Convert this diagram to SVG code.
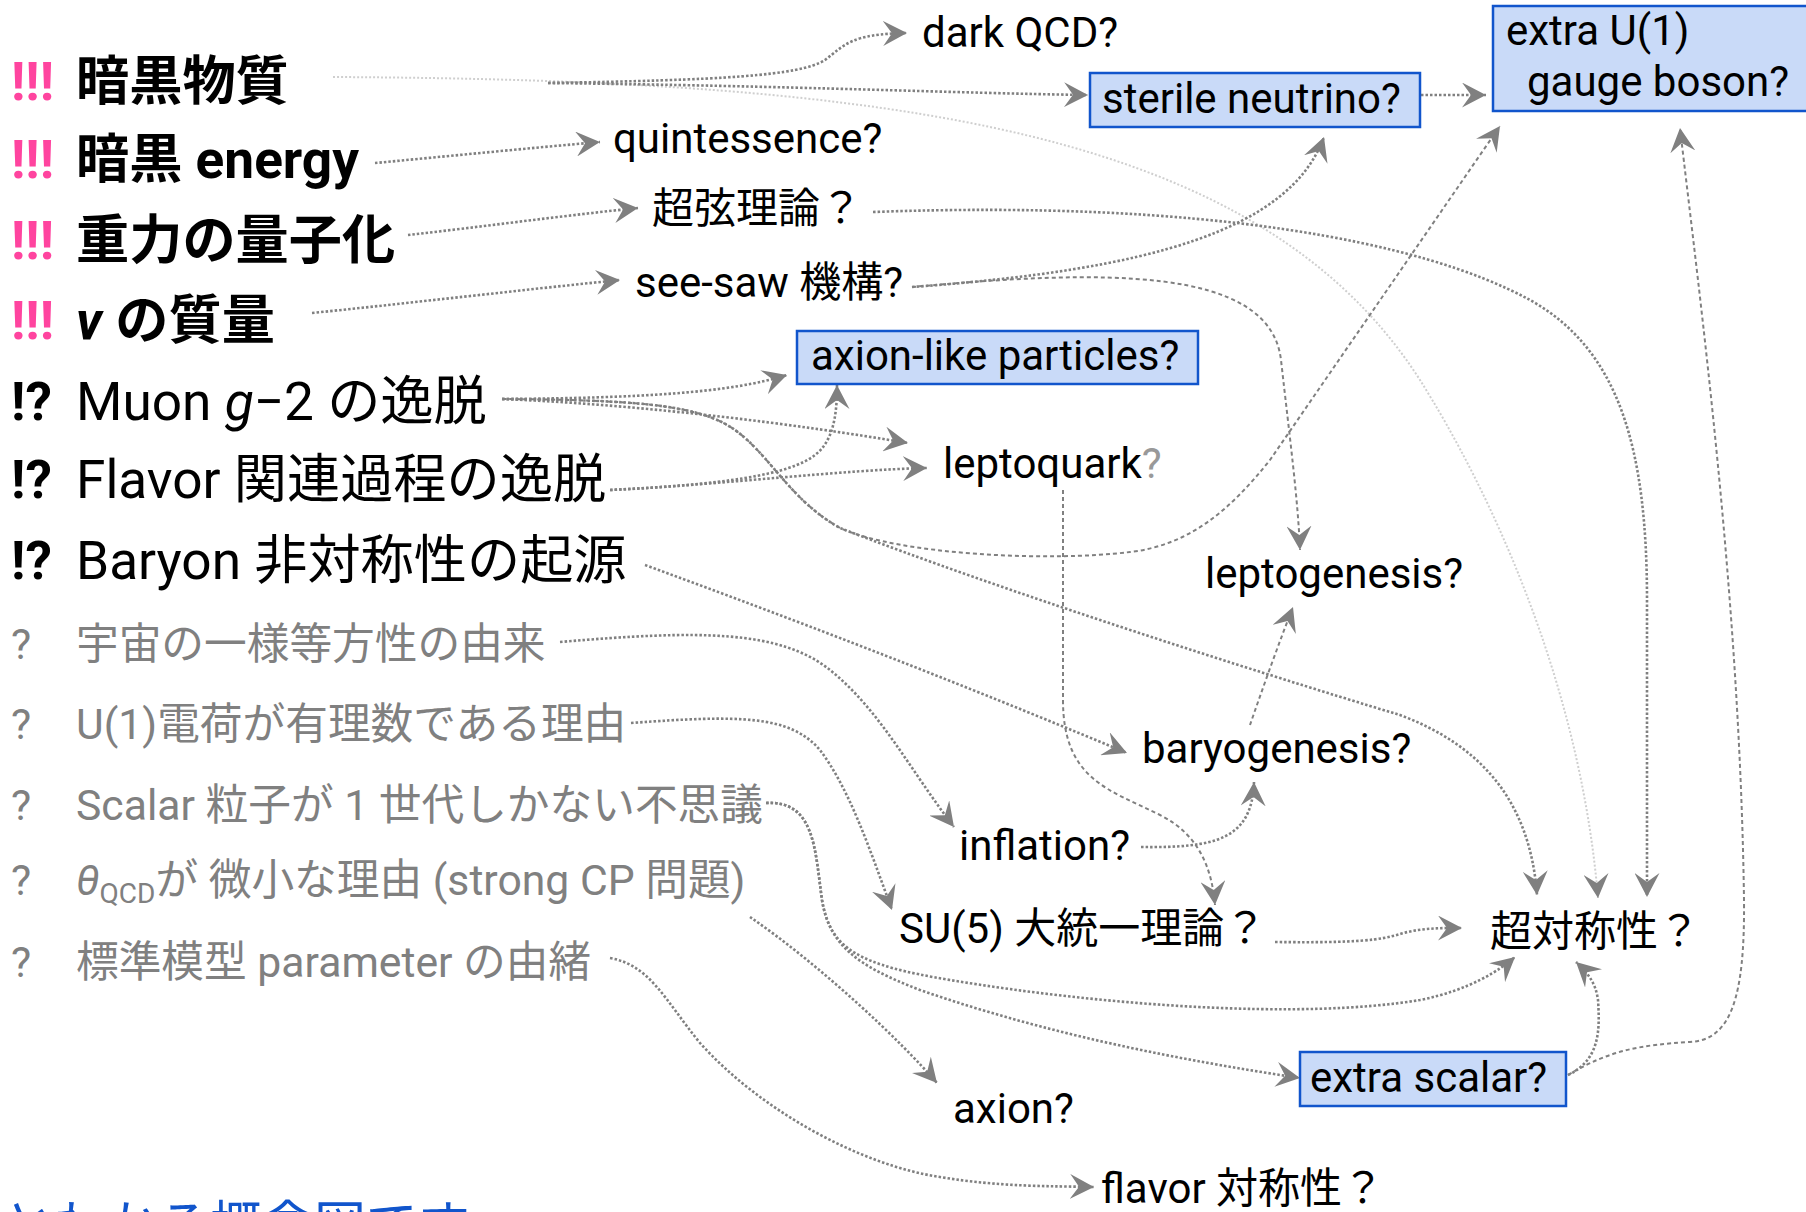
<svg xmlns="http://www.w3.org/2000/svg" width="1806" height="1212" viewBox="0 0 1806 1212">
<defs>
<marker id="ah" viewBox="0 0 25 25" refX="24" refY="12.5" markerWidth="25" markerHeight="25" markerUnits="userSpaceOnUse" orient="auto">
<path d="M24,12.5 L0,0 L9,12.5 L0,25 Z" fill="#808080"/>
</marker>
</defs>
<style>
text{font-family:Roboto,"Noto Sans CJK JP",sans-serif;}
.big{font-size:53.2px;fill:#000;}
.bold{font-weight:bold;}
.pink{font-size:53px;font-weight:bold;fill:#ff449f;}
.gray{font-size:42.7px;fill:#808080;}
.lbl{font-size:42px;fill:#000;}
.box{fill:#c9daf8;stroke:#1155cc;stroke-width:2.5;}
.c{fill:none;stroke:#808080;stroke-width:2.6;stroke-dasharray:2.5 2;marker-end:url(#ah);}
.t{fill:none;stroke:#808080;stroke-width:2;stroke-dasharray:4 3;marker-end:url(#ah);}
.f{fill:none;stroke:#cfcfcf;stroke-width:2;stroke-dasharray:2 2;marker-end:url(#ah);}
</style>
<rect width="1806" height="1212" fill="#fff"/>

<g id="connectors">
<path class="f" d="M333,77 C900,80 1260,130 1420,380 C1488,488 1580,680 1598,898"/>
<path class="c" d="M548,83 C720,80 800,76 825,60 C845,45 850,34 907,33"/>
<path class="c" d="M548,83 C800,86 950,93 1088,95"/>
<path class="c" d="M375,163 C450,156 530,148 600,142"/>
<path class="c" d="M408,235 C480,227 560,216 638,208"/>
<path class="c" d="M312,313 C420,302 520,290 620,280"/>
<path class="c" d="M873,212 C1200,200 1420,240 1530,300 C1620,350 1647,450 1647,600 L1647,897"/>
<path class="c" d="M912,287 C1150,270 1290,230 1324,137"/>
<path class="t" d="M912,287 C1100,270 1270,265 1281,360 C1290,440 1298,500 1300,550"/>
<path class="c" d="M502,399 C640,398 730,393 787,375"/>
<path class="c" d="M502,399 C650,405 800,425 908,443"/>
<path class="t" d="M502,399 C640,400 700,405 735,430 C770,455 790,500 840,528 C900,555 1050,562 1130,552 C1190,545 1230,510 1270,460 L1500,126"/>
<path class="c" d="M502,399 C640,400 700,405 735,430 C770,455 790,500 840,528 C1000,590 1250,670 1400,715 C1480,745 1530,800 1537,895"/>
<path class="c" d="M610,490 C730,484 840,470 927,468"/>
<path class="c" d="M610,490 C720,485 790,475 815,455 C835,440 837,410 837,385"/>
<path class="c" d="M645,565 C850,640 1000,700 1127,753"/>
<path class="c" d="M560,642 C700,630 780,630 830,670 C880,710 910,770 954,827"/>
<path class="c" d="M631,723 C740,715 790,715 820,750 C850,790 870,850 892,910"/>
<path class="c" d="M766,803 C815,800 815,850 822,900 C830,950 860,965 950,980 C1100,1005 1300,1020 1420,1000 C1470,990 1500,970 1515,957"/>
<path class="c" d="M766,803 C815,800 815,850 822,900 C830,945 855,965 920,990 C1050,1035 1180,1060 1300,1078"/>
<path class="c" d="M750,917 C820,965 900,1040 937,1083"/>
<path class="c" d="M610,958 C650,965 665,1000 700,1043 C760,1110 860,1165 940,1177 C1000,1187 1050,1186 1094,1187"/>
<path class="c" d="M1141,847 C1215,848 1252,840 1254,782"/>
<path class="t" d="M1250,725 C1262,690 1280,640 1293,607"/>
<path class="t" d="M1063,490 L1063,700 C1063,780 1110,790 1160,815 C1200,835 1212,870 1215,905"/>
<path class="c" d="M1275,942 C1360,943 1380,940 1400,934 C1420,928 1440,928 1462,928"/>
<path class="c" d="M1568,1075 C1600,1060 1600,1030 1598,1000 C1596,985 1590,975 1576,962"/>
<path class="t" d="M1568,1075 C1610,1050 1640,1045 1690,1042 C1730,1040 1745,1000 1744,900 C1740,600 1700,300 1680,128"/>
<path class="c" d="M1421,95 L1486,95"/>
</g>

<g id="q-darkmatter"><text class="pink" x="11" y="100">!!!</text><text class="big bold" x="76" y="100">暗黒物質</text></g>
<g id="q-darkenergy"><text class="pink" x="11" y="178">!!!</text><text class="big bold" x="76" y="178">暗黒 energy</text></g>
<g id="q-gravity"><text class="pink" x="11" y="259">!!!</text><text class="big bold" x="76" y="259">重力の量子化</text></g>
<g id="q-numass"><text class="pink" x="11" y="339">!!!</text><text class="big bold" x="76" y="339"><tspan font-style="italic">ν</tspan> の質量</text></g>
<g id="q-muon"><text class="big bold" x="11" y="420">!?</text><text class="big" x="76" y="420">Muon <tspan font-style="italic">g</tspan>−2 の逸脱</text></g>
<g id="q-flavor"><text class="big bold" x="11" y="498">!?</text><text class="big" x="76" y="498">Flavor 関連過程の逸脱</text></g>
<g id="q-baryon"><text class="big bold" x="11" y="579">!?</text><text class="big" x="76" y="579">Baryon 非対称性の起源</text></g>
<g id="q-isotropy"><text class="gray" x="11" y="659">?</text><text class="gray" x="76" y="659">宇宙の一様等方性の由来</text></g>
<g id="q-charge"><text class="gray" x="11" y="739">?</text><text class="gray" x="76" y="739">U(1)電荷が有理数である理由</text></g>
<g id="q-scalar"><text class="gray" x="11" y="820">?</text><text class="gray" x="76" y="820">Scalar 粒子が 1 世代しかない不思議</text></g>
<g id="q-strongcp"><text class="gray" x="11" y="895">?</text><text class="gray" x="76" y="895"><tspan font-style="italic">θ</tspan><tspan font-size="28" dy="8">QCD</tspan><tspan dy="-8">が 微小な理由 (strong CP 問題)</tspan></text></g>
<g id="q-smparam"><text class="gray" x="11" y="977">?</text><text class="gray" x="76" y="977">標準模型 parameter の由緒</text></g>

<g id="n-darkqcd"><text class="lbl" x="922" y="47">dark QCD?</text></g>
<g id="n-sterile"><rect class="box" x="1090" y="73" width="330" height="54"/><text class="lbl" x="1102" y="113">sterile neutrino?</text></g>
<g id="n-extrau1"><rect class="box" x="1493" y="6" width="320" height="105"/><text class="lbl" x="1506" y="45">extra U(1)</text><text class="lbl" x="1527" y="96">gauge boson?</text></g>
<g id="n-quint"><text class="lbl" x="613" y="153">quintessence?</text></g>
<g id="n-string"><text class="lbl" x="652" y="223">超弦理論？</text></g>
<g id="n-seesaw"><text class="lbl" x="635" y="297">see-saw 機構?</text></g>
<g id="n-alp"><rect class="box" x="797" y="331" width="401" height="53"/><text class="lbl" x="811" y="370">axion-like particles?</text></g>
<g id="n-leptoquark"><text class="lbl" x="943" y="478">leptoquark<tspan fill="#999">?</tspan></text></g>
<g id="n-leptogenesis"><text class="lbl" x="1205" y="588">leptogenesis?</text></g>
<g id="n-baryogenesis"><text class="lbl" x="1142" y="763">baryogenesis?</text></g>
<g id="n-inflation"><text class="lbl" x="959" y="860">inflation?</text></g>
<g id="n-su5"><text class="lbl" x="899" y="943">SU(5) 大統一理論？</text></g>
<g id="n-susy"><text class="lbl" x="1490" y="946">超対称性？</text></g>
<g id="n-extrascalar"><rect class="box" x="1300" y="1052" width="266" height="54"/><text class="lbl" x="1310" y="1092">extra scalar?</text></g>
<g id="n-axion"><text class="lbl" x="953" y="1123">axion?</text></g>
<g id="n-flavorsym"><text class="lbl" x="1101" y="1203">flavor 対称性？</text></g>
<g id="footer"><text x="2" y="1244" font-size="52" fill="#1155cc">とわかる概念図です</text></g>
</svg>
